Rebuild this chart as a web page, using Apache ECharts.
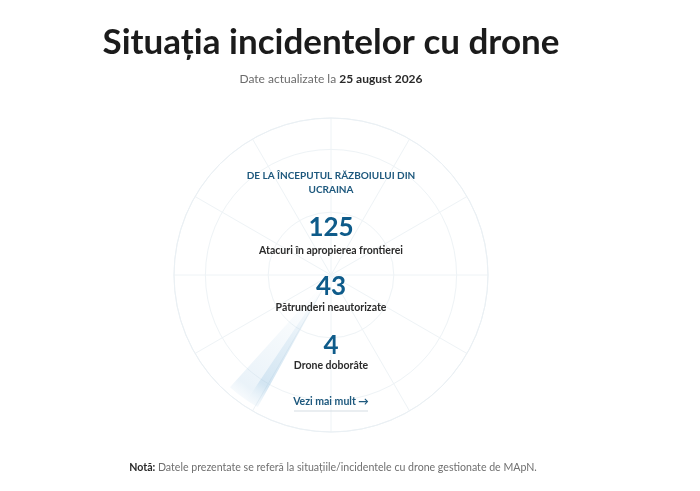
<!DOCTYPE html>
<html>
<head>
<meta charset="utf-8">
<script src="https://cdn.jsdelivr.net/npm/echarts@6/dist/echarts.min.js"></script>
<style>
html,body{margin:0;padding:0;background:#fff;}
#c{width:700px;height:491px;}
</style>
</head>
<body>
<div id="c"></div>
<script>
// ---- data ----
const titleText = 'Situația incidentelor cu drone';
const updatedPrefix = 'Date actualizate la ';
const updatedDate = '25 august 2026';
const headingLines = ['DE LA ÎNCEPUTUL RĂZBOIULUI DIN', 'UCRAINA'];
const statValues = [125, 43, 4];
const statLabels = ['Atacuri în apropierea frontierei', 'Pătrunderi neautorizate', 'Drone doborâte'];
const linkText = 'Vezi mai mult →';
const noteLabel = 'Notă:';
const noteText = ' Datele prezentate se referă la situațiile/incidentele cu drone gestionate de MApN.';
const sweepSlices = [5, 8, 347];   // degrees: bright edge, soft trail, remainder
const sweepStart = 241;

// ---- layout ----
const CX = 331, CY = 275, R = 157;
const FONT = 'Lato, "Noto Sans", sans-serif';
const blue = '#1d587d';
const numBlue = '#0e5b8a';

function txt(x, y, text, font, fill) {
  return {
    type: 'text', x: x, y: y, silent: true, z: 100,
    style: { text: text, font: font, fill: fill,
      textAlign: 'center', textVerticalAlign: 'middle', align: 'center', verticalAlign: 'middle' }
  };
}

const statY = [228, 287, 346];
const labelY = [251, 308, 366];
const graphics = [];
graphics.push(txt(CX, 43, titleText, 'bold 35px ' + FONT, '#1b1b1b'));
graphics.push({
  type: 'text', x: CX, y: 79, silent: true, z: 100,
  style: {
    text: '{g|' + updatedPrefix + '}{b|' + updatedDate + '}',
    textAlign: 'center', textVerticalAlign: 'middle', align: 'center', verticalAlign: 'middle',
    rich: {
      g: { fontFamily: FONT, fontSize: 12, fill: '#6b6b6b', color: '#6b6b6b' },
      b: { fontFamily: FONT, fontSize: 12, fontWeight: 'bold', fill: '#2a2a2a', color: '#2a2a2a' }
    }
  }
});
headingLines.forEach((l, i) => {
  graphics.push(txt(CX, 176 + i * 14, l, 'bold 10px ' + FONT, blue));
});
statValues.forEach((v, i) => {
  graphics.push(txt(CX, statY[i], String(v), 'bold 26px ' + FONT, numBlue));
  graphics.push(txt(CX, labelY[i], statLabels[i], 'bold 10.5px ' + FONT, '#2b2b2b'));
});
graphics.push(txt(CX, 402, linkText, 'bold 10.5px ' + FONT, blue));
graphics.push({
  type: 'line', silent: true, z: 100,
  shape: { x1: CX - 37, y1: 411, x2: CX + 37, y2: 411 },
  style: { stroke: '#d5dde3', lineWidth: 1 }
});
graphics.push({
  type: 'text', x: CX + 2, y: 468, silent: true, z: 100,
  style: {
    text: '{b|' + noteLabel + '}{g|' + noteText + '}',
    textAlign: 'center', textVerticalAlign: 'middle', align: 'center', verticalAlign: 'middle',
    rich: {
      b: { fontFamily: FONT, fontSize: 10.6, fontWeight: 'bold', fill: '#2a2a2a', color: '#2a2a2a' },
      g: { fontFamily: FONT, fontSize: 10.6, fill: '#6f6f6f', color: '#6f6f6f' }
    }
  }
});

const chart = echarts.init(document.getElementById('c'), null, { renderer: 'canvas' });
const gridColor = '#eef3f6';
chart.setOption({
  backgroundColor: '#ffffff',
  animation: false,
  polar: { center: [CX, CY], radius: R },
  angleAxis: {
    type: 'value', min: 0, max: 360, interval: 30, startAngle: 90, z: 0,
    axisLine: { show: true, lineStyle: { color: '#eaf0f4', width: 1 } },
    axisTick: { show: false }, axisLabel: { show: false },
    splitLine: { show: true, lineStyle: { color: gridColor, width: 1 } }
  },
  radiusAxis: {
    type: 'value', min: 0, max: 5, interval: 2, z: 0,
    axisLine: { show: false }, axisTick: { show: false }, axisLabel: { show: false },
    splitLine: { show: true, lineStyle: { color: gridColor, width: 1 } }
  },
  series: [{
    type: 'pie',
    z: 1,
    center: [CX, CY],
    radius: [16, R - 6],
    startAngle: sweepStart,
    clockwise: true,
    silent: true,
    label: { show: false }, labelLine: { show: false },
    emphasis: { disabled: true },
    data: sweepSlices.map((v, i) => ({
      value: v,
      itemStyle: i === 2 ? { color: 'rgba(0,0,0,0)' } : {
        color: new echarts.graphic.LinearGradient(1, 0, 0, 1, i === 0 ? [
          { offset: 0, color: 'rgba(170,205,230,0)' },
          { offset: 0.45, color: 'rgba(160,200,228,0.3)' },
          { offset: 0.8, color: 'rgba(150,194,225,0.42)' },
          { offset: 1, color: 'rgba(200,224,240,0.08)' }
        ] : [
          { offset: 0, color: 'rgba(205,228,242,0)' },
          { offset: 0.5, color: 'rgba(195,220,238,0.2)' },
          { offset: 0.85, color: 'rgba(185,214,235,0.3)' },
          { offset: 1, color: 'rgba(215,233,245,0.05)' }
        ])
      }
    }))
  }],
  graphic: graphics
});
</script>
</body>
</html>
